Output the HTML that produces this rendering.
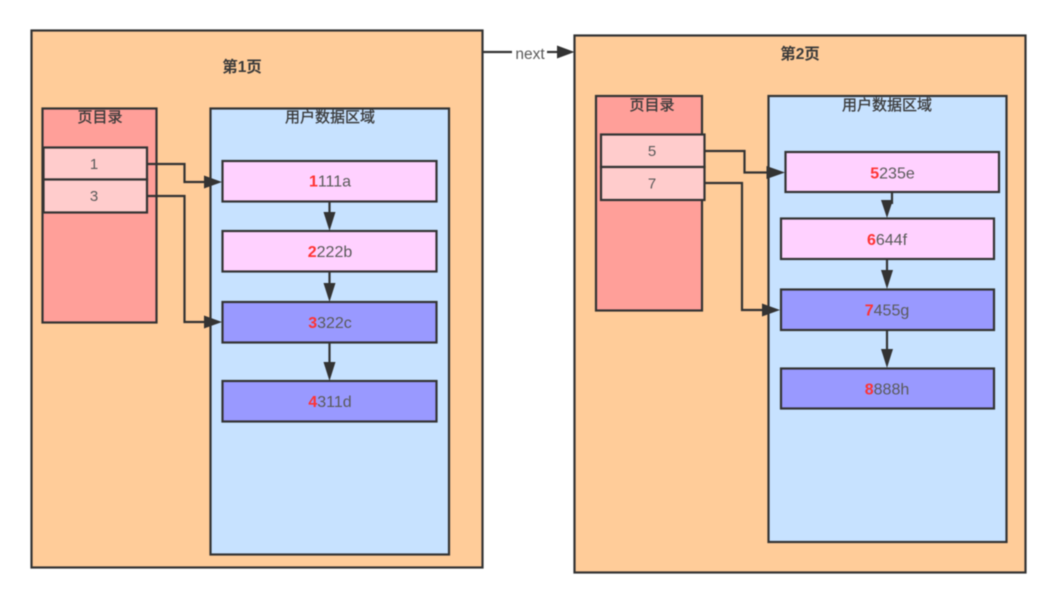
<!DOCTYPE html>
<html><head><meta charset="utf-8">
<style>
html,body{margin:0;padding:0;background:#fff;width:1054px;height:590px;overflow:hidden}
svg{display:block;filter:blur(0.5px)}
text{font-family:"Liberation Sans","Noto Sans CJK SC",sans-serif;text-anchor:middle;fill:#5a5a5a;font-size:16px}
.t{fill:#3a3a3a;font-size:15.5px;font-weight:bold}
.h{fill:#3a3a3a;font-size:15px;stroke:#3a3a3a;stroke-width:.3}
.e{font-size:15px}
.b{stroke:#333;stroke-width:2.2;}
.l{stroke:#333;stroke-width:2.2;fill:none}
.a{fill:#333;stroke:none}
.r{fill:#ff3333;font-weight:bold}
</style></head><body>
<svg width="1054" height="590" viewBox="0 0 1054 590" xmlns="http://www.w3.org/2000/svg">
<rect width="1054" height="590" fill="#fff"/>
<!-- Page 1 -->
<rect class="b" x="31.500" y="30.500" width="451" height="537" fill="#ffcc99"/>
<text class="t" x="242" y="72">第1页</text>
<rect class="b" x="42.500" y="108.500" width="114" height="214" fill="#ff9f99"/>
<text class="h" x="100" y="122">页目录</text>
<rect class="b" x="210.500" y="108.500" width="238.500" height="446" fill="#c7e2ff"/>
<text class="h" x="330" y="122">用户数据区域</text>
<rect class="b" x="43.500" y="147.500" width="103.500" height="32" fill="#ffcccc"/>
<rect class="b" x="43.500" y="179.500" width="103.500" height="33" fill="#ffcccc"/>
<text class="e" x="94" y="169">1</text><text class="e" x="94" y="201">3</text>
<rect class="b" x="222.500" y="161" width="214" height="40.500" fill="#ffd1ff"/>
<rect class="b" x="222.500" y="231" width="214" height="40.500" fill="#ffd1ff"/>
<rect class="b" x="222.500" y="302" width="214" height="40.500" fill="#9999ff"/>
<rect class="b" x="222.500" y="381" width="214" height="40.500" fill="#9999ff"/>
<text x="330" y="186.500"><tspan class="r">1</tspan>111a</text>
<text x="330" y="257"><tspan class="r">2</tspan>222b</text>
<text x="330" y="328"><tspan class="r">3</tspan>322c</text>
<text x="330" y="407"><tspan class="r">4</tspan>311d</text>
<path class="l" d="M147 164H184.500V182H206"/>
<polygon class="a" points="204,175.500 222,182 204,188.500"/>
<path class="l" d="M147 196H184.500V322H206"/>
<polygon class="a" points="204,315.500 222,322 204,328.500"/>
<path class="l" d="M329.500 201V214"/><polygon class="a" points="323.500,212 335.500,212 329.500,231"/>
<path class="l" d="M329.500 271V284"/><polygon class="a" points="323.500,283 335.500,283 329.500,302"/>
<path class="l" d="M329.500 342V364"/><polygon class="a" points="323.500,362 335.500,362 329.500,381"/>
<!-- next -->
<path class="l" d="M483 52H512"/><path class="l" d="M547 52H560"/>
<polygon class="a" points="557,45.500 574.500,52 557,58.500"/>
<text x="530" y="59" style="font-size:15.500px">next</text>
<!-- Page 2 -->
<rect class="b" x="574.500" y="35.500" width="451" height="537" fill="#ffcc99"/>
<text class="t" x="800" y="59">第2页</text>
<rect class="b" x="596" y="96" width="106" height="214.500" fill="#ff9f99"/>
<text class="h" x="652" y="110">页目录</text>
<rect class="b" x="768.500" y="96" width="238" height="446" fill="#c7e2ff"/>
<text class="h" x="887" y="110">用户数据区域</text>
<rect class="b" x="601" y="134.500" width="103.500" height="32.500" fill="#ffcccc"/>
<rect class="b" x="601" y="167" width="103.500" height="33" fill="#ffcccc"/>
<text class="e" x="652" y="156">5</text><text class="e" x="652" y="188.500">7</text>
<rect class="b" x="785.500" y="152" width="213.500" height="40" fill="#ffd1ff"/>
<rect class="b" x="781" y="218.500" width="213" height="40.500" fill="#ffd1ff"/>
<rect class="b" x="781" y="289.500" width="213" height="40.500" fill="#9999ff"/>
<rect class="b" x="781" y="368.500" width="213" height="40" fill="#9999ff"/>
<text x="892.500" y="178.500"><tspan class="r">5</tspan>235e</text>
<text x="887" y="245"><tspan class="r">6</tspan>644f</text>
<text x="887" y="315.500"><tspan class="r">7</tspan>455g</text>
<text x="887" y="394.500"><tspan class="r">8</tspan>888h</text>
<path class="l" d="M704.500 151H744.500V172.500H770"/>
<polygon class="a" points="766.500,166 785,172.500 766.500,179"/>
<path class="l" d="M704.500 183H742V310H765"/>
<polygon class="a" points="762,303.500 780,310 762,316.500"/>
<path class="l" d="M892 192V204"/><polygon class="a" points="881,200 893,200 887,218"/>
<path class="l" d="M887 259V272"/><polygon class="a" points="881,270 893,270 887,289"/>
<path class="l" d="M887 330V351"/><polygon class="a" points="881,349 893,349 887,368"/>
</svg>
</body></html>
